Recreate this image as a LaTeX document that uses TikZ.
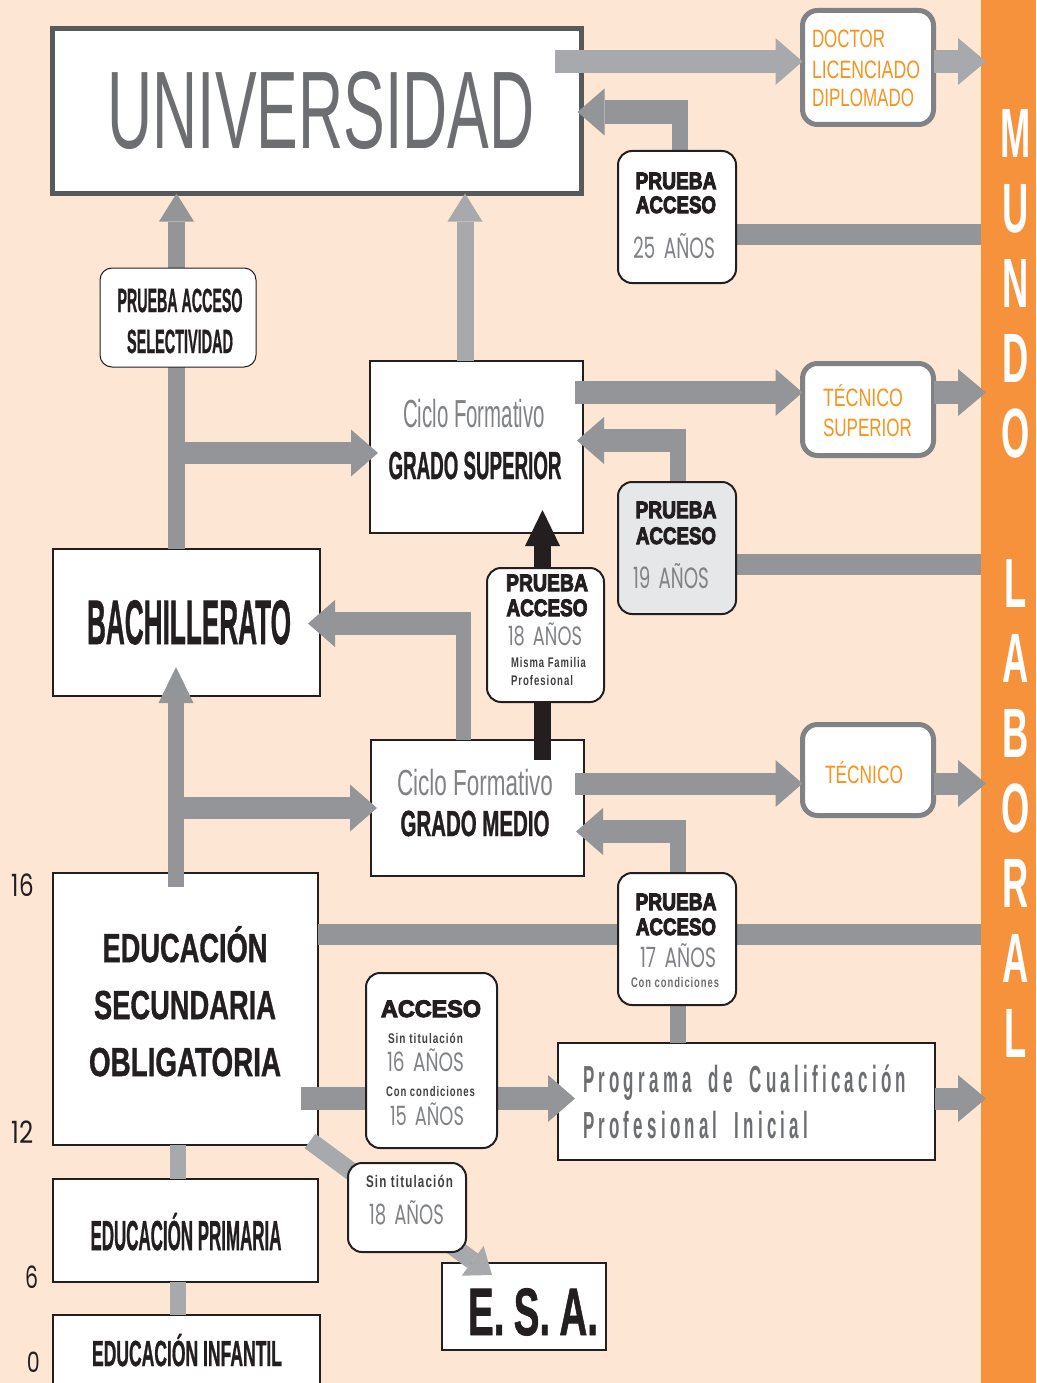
\documentclass[tikz,border=0pt]{standalone}
\usepackage{fontspec}
\usepackage{graphicx}
\setmainfont{Liberation Sans}
\newfontfamily\reg{Liberation Sans}
\newfontfamily\bld{Liberation Sans Bold}[FakeBold=1.2]
\newfontfamily\bldn{Liberation Sans Bold}
\newfontfamily\sml{Liberation Sans Bold}[LetterSpace=10]
\newfontfamily\hvy{Liberation Sans Bold}[FakeBold=4.5]
\newfontfamily\prg{Liberation Sans Bold}[LetterSpace=25]
\newfontfamily\geo{Poppins}
\usetikzlibrary{arrows.meta}
\definecolor{bg}{HTML}{FDE7D4}
\definecolor{org}{HTML}{F6923C}
\definecolor{otx}{HTML}{F7941E}
\definecolor{gd}{HTML}{939598}
\definecolor{gl}{HTML}{A7A9AC}
\definecolor{dk}{HTML}{231F20}
\definecolor{dkg}{HTML}{414042}
\definecolor{ug}{HTML}{6D6E71}
\definecolor{mg}{HTML}{808285}
\definecolor{lg}{HTML}{E6E7E8}
\definecolor{bd}{HTML}{58595B}
\newlength\fw
\newcommand\fitw[2]{\settowidth{\fw}{#2}\pgfmathsetmacro\fwf{#1/\fw}\scalebox{\fwf}[1]{#2}}
\newcommand\tx[5]{{\color{#4}#1\fontsize{\fpeval{#2/0.716}}{\fpeval{#2/0.716*1.2}}\selectfont\fitw{#3}{#5}}}
\newcommand\ty[5]{{\color{#4}#1\fontsize{\fpeval{#2/0.716}}{\fpeval{#2/0.716*1.2}}\selectfont\scalebox{#3}[1]{#5}}}
\newcommand\ag[2]{#1\hspace{0.45em}#2}
\newcommand\bx[6][]{\node[#1, minimum width={(#4)-(#2)}, minimum height={(#5)-(#3)}] (#6) at ({((#2)+(#4))/2},{((#3)+(#5))/2}) {};}
\pgfdeclarelayer{bgl}
\pgfdeclarelayer{boxl}
\pgfdeclarelayer{arrl}
\pgfsetlayers{bgl,boxl,arrl,main}
\tikzset{
  sq/.style={draw=dk, line width=1.5pt, fill=white, inner sep=0pt, outer sep=0pt},
  rnd/.style={sq, rounded corners=14pt, line width=2pt},
  grn/.style={draw=mg, line width=5pt, fill=white, rounded corners=15pt, inner sep=0pt, outer sep=0pt},
  txt/.style={inner sep=0pt, outer sep=0pt, anchor=base},
  txl/.style={txt, anchor=base west},
  tipH/.style={-{Triangle[length=27pt,width=47pt,line width=0pt]}},
  tipV/.style={-{Triangle[length=28pt,width=35pt,line width=0pt]}},
  tipB/.style={-{Triangle[length=28pt,width=47pt,line width=0pt]}},
  tipL/.style={-{Triangle[length=36pt,width=35pt,line width=0pt]}},
}
\begin{document}
\begin{tikzpicture}[x=1pt,y=-1pt]
\useasboundingbox (0,0) rectangle (1036,1383);
\begin{pgfonlayer}{bgl}
\fill[bg] (0,0) rectangle (1036,1383);
\fill[org] (981,0) rectangle (1036,1383);
\end{pgfonlayer}
% ---------- main boxes
\begin{pgfonlayer}{boxl}
\bx[sq, draw=bd, line width=5pt]{52.5}{28.5}{581.5}{193.5}{uni}
\bx[sq]{370}{361}{583}{533}{gs}
\bx[sq]{53}{549}{320}{696}{bach}
\bx[sq]{371}{740}{584}{876}{gm}
\bx[sq]{53}{873}{318}{1145}{eso}
\bx[sq]{53}{1179}{318}{1282}{prim}
\bx[sq]{53}{1315}{320}{1400}{inf}
\bx[sq]{558}{1043}{935}{1160}{prog}
\bx[sq]{442}{1263}{606}{1350}{esa}
\bx[grn]{802.5}{10.5}{933.5}{124.5}{doc}
\bx[grn]{802.5}{363.5}{933.5}{455.5}{ts}
\bx[grn]{802.5}{724.5}{933.5}{815.5}{tec}
\end{pgfonlayer}
% ---------- small rounded boxes (on top of connectors)
\bx[rnd, line width=1pt, rounded corners=12pt]{100}{268}{256}{367}{sel}
\bx[rnd]{618}{151}{736}{283}{p25}
\bx[rnd, fill=lg]{618}{482}{736}{614}{p19}
\bx[rnd]{487}{568}{604}{702}{p18}
\bx[rnd]{618}{873}{736}{1005}{p17}
\bx[rnd]{366}{973}{497}{1148}{acc}
\bx[rnd]{348}{1163}{466}{1252}{sin}
% ---------- coordinates
\coordinate (u1) at (555,61.5);
\coordinate (bar1) at (986,61.5);
\coordinate (k25) at (680,100);
\coordinate (h25) at (688,112);
\coordinate (m25) at (981,234.5);
\coordinate (lc) at (176.5,0);
\coordinate (b4) at (176.5,453);
\coordinate (c2) at (465,0);
\coordinate (g5) at (575,392.5);
\coordinate (bar5) at (986,392.5);
\coordinate (k19) at (678,429);
\coordinate (h19) at (686,440.5);
\coordinate (m19) at (981,564.5);
\coordinate (c4) at (542.5,760);
\coordinate (k8) at (463.5,623.5);
\coordinate (h8) at (471,623.5);
\coordinate (lc2) at (176,887);
\coordinate (b10) at (176,808);
\coordinate (g9) at (575,783.5);
\coordinate (bar9) at (986,783.5);
\coordinate (k17) at (678,820);
\coordinate (h17) at (686,831.5);
\coordinate (m12) at (981,934.5);
\coordinate (s13) at (301,1098.5);
\coordinate (bar13) at (986,1098.5);
\coordinate (d1) at (310,1141);
\coordinate (d2) at (492,1275);
\coordinate (c6) at (178,0);
% ---------- connectors
\begin{pgfonlayer}{arrl}
\draw[gl, line width=23pt, tipH] (u1) -- (doc.west |- u1);
\draw[gl, line width=23pt, tipB] (doc.east |- u1) -- (bar1);
\draw[gd, line width=16pt] (p25.north -| k25) -- (k25);
\draw[gd, line width=24pt, tipH] (h25) -- ([xshift=-4pt]uni.east |- h25);
\draw[gd, line width=21pt] (p25.east |- m25) -- (m25);
\draw[gd, line width=17pt, tipV] (bach.north -| lc) -- (uni.south -| lc);
\draw[gd, line width=22pt, tipH] (b4) -- ([xshift=8pt]gs.west |- b4);
\draw[gl, line width=17pt, tipV] (gs.north -| c2) -- (uni.south -| c2);
\draw[gd, line width=23pt, tipH] (g5) -- (ts.west |- g5);
\draw[gd, line width=23pt, tipB] (ts.east |- g5) -- (bar5);
\draw[gd, line width=16pt] (p19.north -| k19) -- (k19);
\draw[gd, line width=23pt, tipH] (h19) -- ([xshift=-6pt]gs.east |- h19);
\draw[gd, line width=21pt] (p19.east |- m19) -- (m19);
\draw[dk, line width=17pt, tipL] (c4) -- ([yshift=23pt]gs.south -| c4);
\draw[gd, line width=15pt] (gm.north -| k8) -- ([yshift=11.5pt]k8);
\draw[gd, line width=23pt, tipH] (h8) -- ([xshift=-12pt]bach.east |- h8);
\draw[gd, line width=16pt, tipL] (lc2) -- ([yshift=29pt]bach.south -| lc2);
\draw[gd, line width=22pt, tipH] (b10) -- ([xshift=6pt]gm.west |- b10);
\draw[gd, line width=22pt, tipH] (g9) -- (tec.west |- g9);
\draw[gd, line width=22pt, tipB] (tec.east |- g9) -- (bar9);
\draw[gd, line width=16pt] (p17.north -| k17) -- (k17);
\draw[gd, line width=23pt, tipH] (h17) -- ([xshift=-8pt]gm.east |- h17);
\draw[gd, line width=21pt] (eso.east |- m12) -- (m12);
\draw[gd, line width=16pt] (p17.south -| k17) -- (prog.north -| k17);
\draw[gd, line width=23pt, tipH] (s13) -- ([xshift=17pt]prog.west |- s13);
\draw[gd, line width=22pt, tipB] (prog.east |- bar13) -- (bar13);
\draw[gl, line width=18pt, -{Triangle[length=24pt,width=37pt,line width=0pt]}] (d1) -- (d2);
\draw[gl, line width=16pt] (eso.south -| c6) -- (prim.north -| c6);
\draw[gl, line width=16pt] (prim.south -| c6) -- (inf.north -| c6);
\end{pgfonlayer}
% ---------- texts
\node[txt] (tuni) at (321,149) {\tx{\reg}{79}{427}{ug}{UNIVERSIDAD}};
\node[txl] (td1) at (812,48) {\tx{\reg}{18}{73}{otx}{DOCTOR}};
\node[txl] (td2) at (812,79) {\tx{\reg}{18}{108}{otx}{LICENCIADO}};
\node[txl] (td3) at (812,107) {\tx{\reg}{18}{102}{otx}{DIPLOMADO}};
\node[txt] (t25a) at (676,189) {\tx{\hvy}{17}{81}{dk}{PRUEBA}};
\node[txt] (t25b) at (676,213) {\tx{\hvy}{17}{80}{dk}{ACCESO}};
\node[txl] (t25c) at (633,258) {\tx{\geo}{21}{82}{mg}{\ag{25}{AÑOS}}};
\node[txt] (ts1) at (180,312) {\tx{\bld}{24}{125}{dk}{PRUEBA ACCESO}};
\node[txt] (ts2) at (180,353) {\tx{\bld}{24}{106}{dk}{SELECTIVIDAD}};
\node[txt] (tgs1) at (474,427) {\tx{\reg}{28}{142}{mg}{Ciclo Formativo}};
\node[txt] (tgs2) at (475,479) {\tx{\bld}{28}{173}{dk}{GRADO SUPERIOR}};
\node[txl] (tts1) at (823,406) {\tx{\reg}{18}{80}{otx}{TÉCNICO}};
\node[txl] (tts2) at (823,436) {\tx{\reg}{18}{89}{otx}{SUPERIOR}};
\node[txt] (t19a) at (676,518) {\tx{\hvy}{17}{81}{dk}{PRUEBA}};
\node[txt] (t19b) at (676,544) {\tx{\hvy}{17}{80}{dk}{ACCESO}};
\node[txl] (t19c) at (633,588) {\tx{\geo}{21}{76}{mg}{\ag{19}{AÑOS}}};
\node[txt] (tba) at (189,644) {\tx{\bld}{45}{204}{dk}{BACHILLERATO}};
\node[txt] (t18a) at (547,591) {\tx{\hvy}{17}{82}{dk}{PRUEBA}};
\node[txt] (t18b) at (547,616) {\tx{\hvy}{17}{81}{dk}{ACCESO}};
\node[txl] (t18c) at (508,645) {\tx{\geo}{19}{74}{mg}{\ag{18}{AÑOS}}};
\node[txl] (t18d) at (511,667) {\tx{\sml}{10}{75}{dkg}{Misma Familia}};
\node[txl] (t18e) at (511,685) {\tx{\sml}{10}{62}{dkg}{Profesional}};
\node[txt] (tgm1) at (475,795) {\tx{\reg}{26}{156}{mg}{Ciclo Formativo}};
\node[txt] (tgm2) at (475,836) {\tx{\bld}{26}{149}{dk}{GRADO MEDIO}};
\node[txl] (ttec) at (825,783) {\tx{\reg}{18}{78}{otx}{TÉCNICO}};
\node[txt] (t17a) at (676,910) {\tx{\hvy}{17}{81}{dk}{PRUEBA}};
\node[txt] (t17b) at (676,935) {\tx{\hvy}{17}{80}{dk}{ACCESO}};
\node[txl] (t17c) at (640,967) {\tx{\geo}{20}{76}{mg}{\ag{17}{AÑOS}}};
\node[txt] (t17d) at (675,987) {\tx{\sml}{10}{88}{ug}{Con condiciones}};
\node[txt] (te1) at (185,962) {\tx{\bld}{29}{165}{dk}{EDUCACIÓN}};
\node[txt] (te2) at (185,1019) {\tx{\bld}{29}{182}{dk}{SECUNDARIA}};
\node[txt] (te3) at (185,1076) {\tx{\bld}{29}{192}{dk}{OBLIGATORIA}};
\node[txt] (ta1) at (431,1017) {\tx{\hvy}{17}{100}{dk}{ACCESO}};
\node[txl] (ta2) at (388,1043) {\tx{\sml}{10}{75}{dkg}{Sin titulación}};
\node[txl] (ta3) at (387,1071) {\tx{\geo}{19}{77}{mg}{\ag{16}{AÑOS}}};
\node[txl] (ta4) at (386,1096) {\tx{\sml}{10}{89}{dkg}{Con condiciones}};
\node[txl] (ta5) at (390,1125) {\tx{\geo}{19}{74}{mg}{\ag{15}{AÑOS}}};
\node[txl] (tp1) at (583,1092) {\tx{\prg}{27}{323}{ug}{Programa\hspace{1em}de\hspace{1em}Cualificación}};
\node[txl] (tp2) at (583,1138) {\tx{\prg}{27}{225}{ug}{Profesional\hspace{1em}Inicial}};
\node[txl] (tsn1) at (366,1187) {\tx{\sml}{12}{87}{dkg}{Sin titulación}};
\node[txl] (tsn2) at (369,1224) {\tx{\geo}{20}{75}{mg}{\ag{18}{AÑOS}}};
\node[txl] (tesa) at (468,1335) {\tx{\bld}{48}{130}{dk}{E.\hspace{16pt}S.\hspace{16pt}A.}};
\node[txt] (tpr) at (186,1250) {\tx{\bld}{30}{191}{dk}{EDUCACIÓN PRIMARIA}};
\node[txt] (tin) at (187,1366) {\tx{\bld}{26}{190}{dk}{EDUCACIÓN INFANTIL}};
\node[txl] (a16) at (12,896) {\tx{\geo}{22}{22}{dk}{16}};
\node[txl] (a12) at (12,1143) {\tx{\geo}{22}{22}{dk}{12}};
\node[txl] (a6) at (25,1288) {\tx{\geo}{22}{13}{dk}{6}};
\node[txl] (a0) at (27,1372) {\tx{\geo}{20}{13}{dk}{0}};
\foreach \l/\yy [count=\i] in {M/133,U/207,N/282,D/357,O/432,L/582,A/657,B/732,O/807,R/882,A/957,L/1032}
  \node[txt] (ml\i) at (1016,\yy+25) {\ty{\bldn}{50}{0.52}{white}{\l}};
\end{tikzpicture}
\end{document}
